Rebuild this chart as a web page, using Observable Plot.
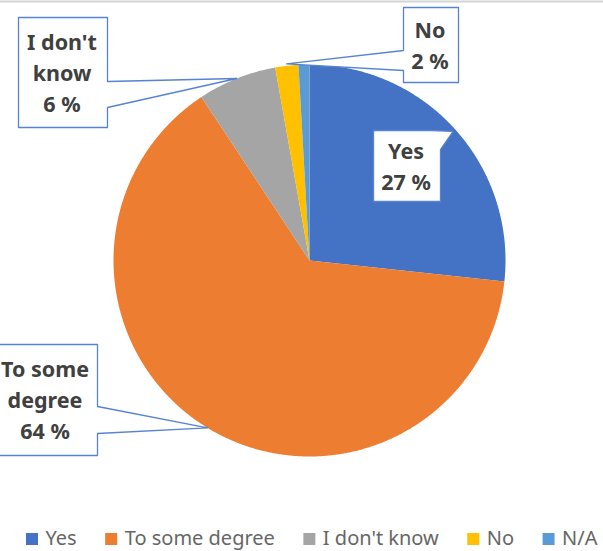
<!DOCTYPE html>
<html>
<head>
<meta charset="utf-8">
<script src="https://cdn.jsdelivr.net/npm/d3@7"></script>
<script src="https://cdn.jsdelivr.net/npm/@observablehq/plot@0.6"></script>
<style>
  html, body { margin: 0; padding: 0; background: #fff; }
  svg { display: block; }
</style>
</head>
<body>
<div id="chart"></div>
<script>
// ---- data ----
const categories = ["Yes", "To some degree", "I don't know", "No", "N/A"];
const values = [26.7, 64.0, 6.5, 1.9, 0.9];
const colors = ["#4472C4", "#ED7D31", "#A5A5A5", "#FFC000", "#5B9BD5"];
const labelNames = ["Yes", "To some\ndegree", "I don't\nknow", "No"];
const labelPercents = ["27 %", "64 %", "6 %", "2 %"];

// ---- layout ----
const W = 603, H = 551;
const cx = 309, cy = 260, R = 196;
const pie = d3.pie().sort(null).value(d => d)(values);
const pt = (a, r) => [cx + r * Math.sin(a), cy - r * Math.cos(a)];

// slice polygons
const slicePts = [];
pie.forEach((p, i) => {
  const key = categories[i];
  slicePts.push({key, x: cx, y: cy});
  const n = Math.max(2, Math.ceil((p.endAngle - p.startAngle) / 0.005));
  for (let k = 0; k <= n; k++) {
    const a = p.startAngle + (p.endAngle - p.startAngle) * k / n;
    const [x, y] = pt(a, R);
    slicePts.push({key, x, y});
  }
  slicePts.push({key, x: cx, y: cy});
});

// callout boxes (label index -> box & wedge)
const callouts = [
  {i: 0, x0: 373, x1: 440, y0: 130, y1: 201, side: "topright", b0: 431, b1: 149, rt: 0.985},
  {i: 1, x0: -6, x1: 97, y0: 344, y1: 455, side: "right", b0: 406, b1: 433, rt: 1.0},
  {i: 2, x0: 18, x1: 107, y0: 17, y1: 127, side: "right", b0: 81, b1: 107, rt: 1.0},
  {i: 3, x0: 403, x1: 458, y0: 7, y1: 82, side: "left", b0: 50, b1: 70, rt: 1.01}
];
const calloutPts = [];
const labelData = [];
callouts.forEach(c => {
  const p = pie[c.i];
  const [tx, ty] = pt((p.startAngle + p.endAngle) / 2, R * c.rt);
  let path;
  if (c.side === "right") {
    path = [[c.x0, c.y0], [c.x1, c.y0], [c.x1, c.b0], [tx, ty], [c.x1, c.b1], [c.x1, c.y1], [c.x0, c.y1], [c.x0, c.y0]];
  } else if (c.side === "left") {
    path = [[c.x0, c.y0], [c.x1, c.y0], [c.x1, c.y1], [c.x0, c.y1], [c.x0, c.b1], [tx, ty], [c.x0, c.b0], [c.x0, c.y0]];
  } else {
    path = [[c.x0, c.y0], [c.b0, c.y0], [tx, ty], [c.x1, c.b1], [c.x1, c.y1], [c.x0, c.y1], [c.x0, c.y0]];
  }
  path.forEach(([x, y]) => calloutPts.push({key: categories[c.i], x, y}));
  labelData.push({
    x: (c.x0 + c.x1) / 2 - 1,
    y: (c.y0 + c.y1) / 2 - 1.5,
    text: labelNames[c.i] + "\n" + labelPercents[c.i]
  });
});

// legend
const legendFont = "20px 'Noto Sans'";
const ctx = document.createElement("canvas").getContext("2d");
ctx.font = legendFont;
const sq = 12, gapText = 7, gapItem = 29, legendY = 538;
const widths = categories.map(c => ctx.measureText(c).width);
const legendItems = [];
let lx = 26;
categories.forEach((c, i) => {
  legendItems.push({key: c, x1: lx, x2: lx + sq, y1: legendY - sq / 2 + 1, y2: legendY + sq / 2 + 1, tx: lx + sq + gapText});
  lx += sq + gapText + widths[i] + gapItem;
});

const chart = Plot.plot({
  width: W,
  height: H,
  margin: 0,
  x: {domain: [0, W], range: [0, W], axis: null},
  y: {domain: [0, H], range: [0, H], axis: null},
  color: {domain: categories, range: colors},
  style: {fontFamily: "'Noto Sans', sans-serif", background: "#fff"},
  marks: [
    Plot.ruleY([1], {stroke: "#d4d4d4", strokeWidth: 2}),
    Plot.line(slicePts, {x: "x", y: "y", z: "key", fill: "key", stroke: "none"}),
    Plot.line(calloutPts, {x: "x", y: "y", z: "key", fill: "white", stroke: "#5683D2", strokeWidth: 1.3}),
    Plot.text(labelData, {x: "x", y: "y", text: "text", fontSize: 21.5, fontWeight: "bold", fill: "#404040", lineAnchor: "middle", lineHeight: 1.44}),
    Plot.rect(legendItems, {x1: "x1", x2: "x2", y1: "y1", y2: "y2", fill: "key"}),
    Plot.text(legendItems, {x: "tx", y: () => legendY, text: "key", textAnchor: "start", fontSize: 20, fill: "#666666", lineAnchor: "middle"})
  ]
});
document.getElementById("chart").appendChild(chart);
</script>
</body>
</html>
